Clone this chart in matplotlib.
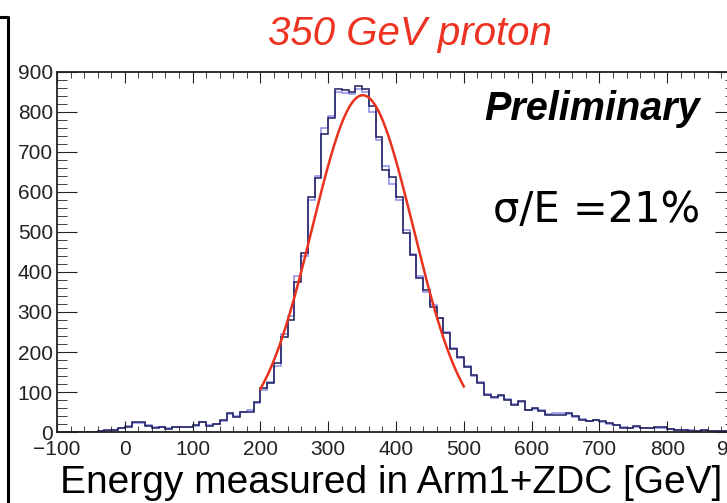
import numpy as np
import matplotlib
matplotlib.use("Agg")
import matplotlib.pyplot as plt
from matplotlib.lines import Line2D
from matplotlib.ticker import MultipleLocator

# 10 GeV bins from -100 to 900
bin_edges = np.arange(-100, 901, 10)

# dark histogram (counts per bin)
counts_dark = [0, 0, 0, 0, 0, 1, 2, 4, 6, 9,
               13, 26, 24, 14, 9, 13, 8, 13, 12, 12,
               17, 26, 15, 19, 30, 48, 38, 51, 51, 76,
               109, 122, 172, 238, 280, 376, 447, 588, 636, 745,
               785, 857, 856, 851, 865, 857, 815, 738, 655, 638,
               588, 497, 442, 384, 355, 313, 284, 247, 207, 188,
               163, 142, 122, 92, 88, 92, 80, 67, 78, 54,
               60, 52, 43, 43, 43, 47, 40, 30, 28, 31,
               27, 22, 17, 10, 10, 14, 10, 10, 12, 12,
               7, 6, 6, 3, 2, 5, 2, 3, 2, 2]

# light histogram, close to the dark one
counts_light = [0, 0, 0, 0, 0, 0, 2, 3, 6, 10,
                15, 22, 23, 18, 12, 12, 10, 12, 13, 12,
                15, 24, 18, 20, 28, 45, 40, 50, 54, 72,
                105, 125, 165, 245, 290, 390, 440, 580, 640, 760,
                790, 850, 848, 845, 858, 850, 800, 730, 665, 620,
                580, 505, 445, 390, 350, 318, 285, 250, 210, 185,
                165, 140, 125, 95, 85, 90, 82, 70, 75, 56,
                58, 55, 45, 48, 47, 44, 38, 32, 27, 29,
                25, 20, 18, 12, 11, 13, 9, 11, 10, 11,
                8, 5, 6, 4, 3, 4, 2, 2, 3, 1]

# gaussian fit parameters
fit_amp = 842
fit_mean = 351
fit_sigma = 74.5
fit_range = (200, 500)

title = "350 GeV proton"
xlabel = "Energy measured in Arm1+ZDC [GeV]"

W, H = 727, 503
fig = plt.figure(figsize=(W / 100, H / 100), dpi=100)
plt.rcParams['font.family'] = ['Liberation Sans', 'DejaVu Sans']

# axes run past the right edge of the picture (cropped like the slide)
left, right, bottom, top = 57, 735, 432, 72
ax = fig.add_axes([left / W, 1 - bottom / H, (right - left) / W, (bottom - top) / H])

ax.stairs(counts_light, bin_edges, color="#8c8ce8", lw=1.1)
ax.stairs(counts_dark, bin_edges, color="#1c1c5e", lw=1.1)

xf = np.linspace(fit_range[0], fit_range[1], 300)
ax.plot(xf, fit_amp * np.exp(-0.5 * ((xf - fit_mean) / fit_sigma) ** 2),
        color="#e8321e", lw=1.8)

ax.set_xlim(-100, 900)
ax.set_ylim(0, 900)
ax.xaxis.set_major_locator(MultipleLocator(100))
ax.xaxis.set_minor_locator(MultipleLocator(20))
ax.yaxis.set_major_locator(MultipleLocator(100))
ax.yaxis.set_minor_locator(MultipleLocator(20))
ax.tick_params(which="both", direction="in", top=True, right=True,
               colors="#222222", labelsize=15)
ax.tick_params(axis="x", which="major", length=8, pad=6)
ax.tick_params(axis="x", which="minor", length=4)
ax.tick_params(axis="y", which="major", length=14.5, pad=3)
ax.tick_params(axis="y", which="minor", length=7)
for s in ax.spines.values():
    s.set_linewidth(1.3)
    s.set_color("#222222")

# texts
fig.text(410 / W, 1 - 45 / H, title, color="#ee3322", style="italic",
         fontsize=29, ha="center", va="baseline")
fig.text(700 / W, 1 - 120 / H, "Preliminary", fontweight="bold", style="italic",
         fontsize=28.5, ha="right", va="baseline")
fig.text(700 / W, 1 - 222 / H, "σ/E =21%", family="DejaVu Sans",
         fontsize=30, ha="right", va="baseline")
fig.text(391 / W, 1 - 493 / H, xlabel, fontsize=28, ha="center", va="baseline")

# slide frame line on the left
fig.add_artist(Line2D([0, 7.5 / W, 7.5 / W], [1 - 17 / H, 1 - 17 / H, 0],
                      color="black", lw=2.2, transform=fig.transFigure))

fig.savefig("out.png", dpi=100)
